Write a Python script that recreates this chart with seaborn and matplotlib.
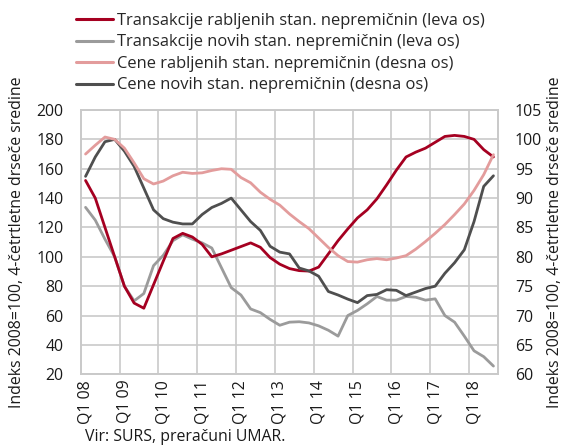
import numpy as np
import pandas as pd
import seaborn as sns
import matplotlib.pyplot as plt
from matplotlib.lines import Line2D

# ---- data ----
quarters = [f"Q{q} {y % 100:02d}" for y in range(2008, 2019) for q in range(1, 5)][:43]

trans_used = [152, 140, 120, 100, 80, 68.5, 65, 81, 97, 112.5,
              116, 113.5, 108.5, 100, 102, 104.5, 107, 109.5, 106.5, 99.5,
              95, 92, 90.6, 90.3, 93, 102, 111, 119, 126.5, 132,
              139.5, 149, 159, 168, 171.3, 174, 178, 182, 182.7, 182,
              180, 173, 168]

trans_new = [133.7, 125, 112, 100, 80, 70, 75, 94, 101, 111,
             115, 112, 109.5, 106, 92.5, 79, 74, 64.5, 62, 57.4,
             53.4, 55.5, 55.8, 55, 53, 50, 46, 60, 63.5, 68,
             73, 70.5, 70.5, 73, 72.5, 70.5, 71.4, 60, 55.5, 46,
             36, 32, 25.6]

price_used = [97.5, 99, 100.4, 100, 98.5, 96, 93.3, 92.4, 92.9, 93.8,
              94.4, 94.2, 94.3, 94.7, 95, 94.9, 93.5, 92.6, 91, 89.8,
              88.8, 87.3, 86, 84.8, 83.2, 81.6, 80.2, 79.2, 79.1, 79.5,
              79.7, 79.5, 79.8, 80.2, 81.3, 82.6, 84, 85.5, 87.2, 89,
              91.3, 94, 97.4]

price_new = [93.7, 97, 99.6, 100, 98, 95.4, 91.7, 88, 86.5, 85.9,
             85.6, 85.6, 87.2, 88.4, 89.1, 90, 88, 86, 84.5, 81.8,
             80.8, 80.5, 78.1, 77.6, 76.7, 74.1, 73.5, 72.8, 72.2, 73.4,
             73.6, 74.4, 74.3, 73.4, 74, 74.6, 75, 77.2, 79, 81.2,
             86, 92, 93.8]

labels = ["Transakcije rabljenih stan. nepremičnin (leva os)",
          "Transakcije novih stan. nepremičnin (leva os)",
          "Cene rabljenih stan. nepremičnin (desna os)",
          "Cene novih stan. nepremičnin (desna os)"]
colors = ["#a50021", "#9b9b9b", "#e39c9c", "#4f4f4f"]

left_ticks = list(range(20, 201, 20))
right_ticks = list(range(60, 106, 5))
ylabel = "Indeks 2008=100, 4-četrtletne drseče sredine"
source = "Vir: SURS, preračuni UMAR."

# ---- style ----
sns.set_theme(style="white")
plt.rcParams['font.family'] = ['Open Sans', 'DejaVu Sans']
FS = 11.4
LFS = 11.9
TXT = "#1a1a1a"
grid_c = "#c9c9c9"

W, H = 564, 446
L, R, T, B = 80.7, 498.3, 110, 374.3
fig = plt.figure(figsize=(W / 100, H / 100), dpi=100)
ax = fig.add_axes([L / W, 1 - B / H, (R - L) / W, (B - T) / H])
ax2 = ax.twinx()

x = np.arange(len(quarters))
df = pd.DataFrame({"x": x, "tu": trans_used, "tn": trans_new, "pu": price_used, "pn": price_new})

lw = 2.0
sns.lineplot(data=df, x="x", y="tn", ax=ax, color=colors[1], linewidth=lw, legend=False)
sns.lineplot(data=df, x="x", y="tu", ax=ax, color=colors[0], linewidth=lw, legend=False)
sns.lineplot(data=df, x="x", y="pn", ax=ax2, color=colors[3], linewidth=lw, legend=False)
sns.lineplot(data=df, x="x", y="pu", ax=ax2, color=colors[2], linewidth=lw, legend=False)

ax.set_xlim(-0.5, len(quarters) - 0.5)
ax.set_ylim(20, 200)
ax2.set_ylim(60, 105)
ax.set_yticks(left_ticks)
ax2.set_yticks(right_ticks)
ax.set_xticks(x[::4])
ax.set_xticklabels(quarters[::4], rotation=90, fontsize=FS)
ax.set_xticks(np.arange(3.5, len(quarters) - 1, 4), minor=True)

ax.tick_params(axis="both", which="both", length=0, colors=TXT, labelsize=FS)
ax.tick_params(axis="y", pad=12.5)
ax.tick_params(axis="x", pad=4)
ax2.tick_params(axis="y", length=0, pad=12, colors=TXT, labelsize=FS)

ax.grid(False)
ax2.grid(False)
ax.grid(True, which="major", axis="y", color=grid_c, linewidth=1.2)
ax.grid(True, which="minor", axis="x", color=grid_c, linewidth=1.2)
ax.set_axisbelow(True)

for a in (ax, ax2):
    for s in a.spines.values():
        s.set_color(grid_c)
        s.set_linewidth(1.2)

ax.set_xlabel("")
ax.set_ylabel(ylabel, fontsize=FS, color=TXT)
ax2.set_ylabel(ylabel, fontsize=FS, color=TXT)
ax.yaxis.set_label_coords((17 - L) / (R - L), 0.5)
ax2.yaxis.set_label_coords((555 - L) / (R - L), 0.5)
ax.yaxis.label.set_verticalalignment("center")
ax2.yaxis.label.set_verticalalignment("center")

handles = [Line2D([0], [0], color=c, linewidth=2.2) for c in colors]
fig.legend(handles, labels, loc="upper left", bbox_to_anchor=(76 / W, 1 - 13 / H),
           frameon=False, fontsize=LFS, handlelength=2.25, handletextpad=0.22,
           labelspacing=0.33, borderaxespad=0, borderpad=0.0)

fig.text(85 / W, 1 - 437 / H, source, fontsize=FS, va="center", ha="left", color=TXT)

fig.savefig("out.png", dpi=100)
